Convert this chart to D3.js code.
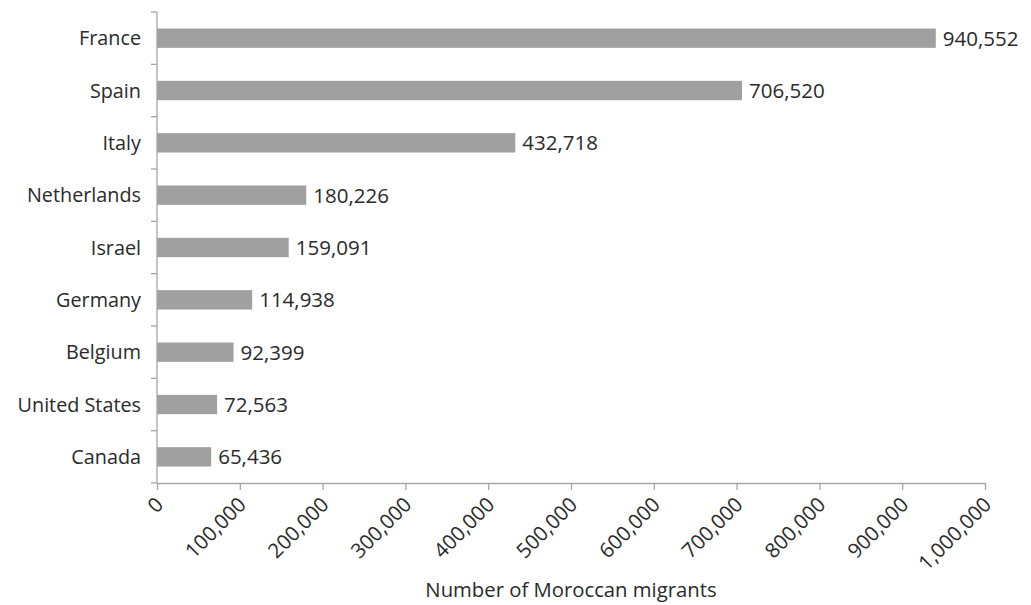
<!DOCTYPE html>
<html>
<head>
<meta charset="utf-8">
<script src="https://cdn.jsdelivr.net/npm/d3@7"></script>
<style>
  html, body { margin: 0; padding: 0; background: #fff; }
  svg { display: block; }
  text { font-family: "Open Sans", "Noto Sans", sans-serif; fill: #2a2a2a; }
</style>
</head>
<body>
<svg id="chart" width="1031" height="605"></svg>
<script>
const categories = ["France", "Spain", "Italy", "Netherlands", "Israel", "Germany", "Belgium", "United States", "Canada"];
const values = [940552, 706520, 432718, 180226, 159091, 114938, 92399, 72563, 65436];
const xTicks = [0, 100000, 200000, 300000, 400000, 500000, 600000, 700000, 800000, 900000, 1000000];
const xTitle = "Number of Moroccan migrants";

const svg = d3.select("#chart");
const margin = { left: 157, top: 12 };
const x = d3.scaleLinear().domain([0, 1000000]).range([margin.left, 985]);
const y = d3.scaleBand().domain(categories).range([margin.top, 483]).paddingInner(0.63).paddingOuter(0.315);
const fmt = d3.format(",");
const axisColor = "#a6a6a6";

// bars
svg.append("g").selectAll("rect").data(categories).join("rect")
  .attr("x", x(0))
  .attr("y", d => y(d))
  .attr("width", (d, i) => x(values[i]) - x(0))
  .attr("height", y.bandwidth())
  .attr("fill", "#a0a0a1");

// value labels
svg.append("g").selectAll("text").data(categories).join("text")
  .attr("x", (d, i) => x(values[i]) + 7)
  .attr("y", d => y(d) + y.bandwidth() / 2)
  .attr("dy", "0.36em")
  .attr("font-size", 20.5)
  .text((d, i) => fmt(values[i]));

// y axis
const yAxisG = svg.append("g");
yAxisG.append("line").attr("x1", x(0)).attr("x2", x(0)).attr("y1", margin.top).attr("y2", 483)
  .attr("stroke", axisColor).attr("stroke-width", 1.3);
const bounds = categories.map(d => y(d) - y.step() * y.paddingInner() / 2).concat([483]);
yAxisG.selectAll("line.tk").data(bounds).join("line").attr("class", "tk")
  .attr("x1", x(0) - 6).attr("x2", x(0)).attr("y1", d => d).attr("y2", d => d)
  .attr("stroke", axisColor).attr("stroke-width", 1.3);
yAxisG.selectAll("text").data(categories).join("text")
  .attr("x", 141)
  .attr("y", d => y(d) + y.bandwidth() / 2)
  .attr("dy", "0.36em")
  .attr("text-anchor", "end")
  .attr("font-size", 19.8)
  .text(d => d);

// x axis
const xAxis = d3.axisBottom(x).tickValues(xTicks).tickSize(7).tickSizeOuter(0).tickFormat(fmt);
const xg = svg.append("g").attr("transform", "translate(0,483)").call(xAxis);
xg.select(".domain").attr("stroke", axisColor).attr("stroke-width", 1.3);
xg.selectAll(".tick line").attr("stroke", axisColor).attr("stroke-width", 1.3);
xg.selectAll(".tick text")
  .attr("font-size", 20.5)
  .attr("font-family", "\"Open Sans\", \"Noto Sans\", sans-serif")
  .attr("fill", "#2a2a2a")
  .attr("text-anchor", "end")
  .attr("y", 0).attr("dy", 0)
  .attr("transform", "translate(7,23) rotate(-45)");

svg.append("text")
  .attr("x", (x(0) + x(1000000)) / 2)
  .attr("y", 597)
  .attr("text-anchor", "middle")
  .attr("font-size", 20.3)
  .text(xTitle);
</script>
</body>
</html>
